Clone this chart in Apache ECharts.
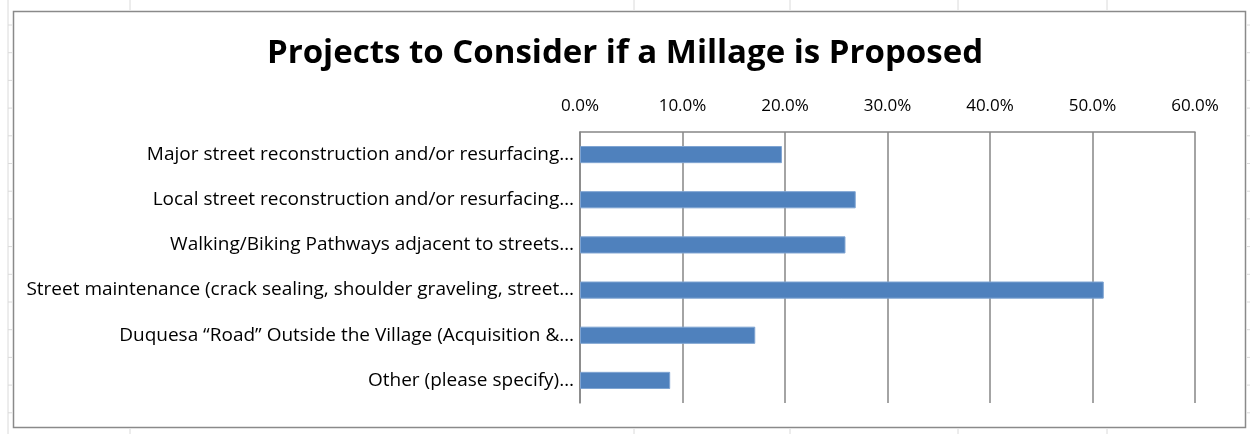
<!DOCTYPE html>
<html>
<head>
<meta charset="utf-8">
<script src="https://cdn.jsdelivr.net/npm/echarts@6/dist/echarts.min.js"></script>
<style>
  html, body { margin: 0; padding: 0; background: #fff; }
  #chart { width: 1250px; height: 434px; }
</style>
</head>
<body>
<div id="chart"></div>
<script>
const categories = [
  'Major street reconstruction and/or resurfacing…',
  'Local street reconstruction and/or resurfacing…',
  'Walking/Biking Pathways adjacent to streets…',
  'Street maintenance (crack sealing, shoulder graveling, street…',
  'Duquesa “Road” Outside the Village (Acquisition &…',
  'Other (please specify)…'
]
const shares = [19.7, 26.9, 25.9, 51.1, 17.1, 8.8]
const titleText = 'Projects to Consider if a Millage is Proposed'

const chart = echarts.init(document.getElementById('chart'))

// faint spreadsheet cell lines behind the chart frame
const sheetLines = []
;[130, 634, 790, 958, 1107].forEach(x => {
  sheetLines.push({ type: 'line', shape: { x1: x, y1: 0, x2: x, y2: 10 }, style: { stroke: '#dadada', lineWidth: 1 }, silent: true })
  sheetLines.push({ type: 'line', shape: { x1: x, y1: 429, x2: x, y2: 434 }, style: { stroke: '#dadada', lineWidth: 1 }, silent: true })
})
sheetLines.push({ type: 'line', shape: { x1: 8, y1: 0, x2: 8, y2: 434 }, style: { stroke: '#dadada', lineWidth: 1 }, silent: true })
for (let y = 25; y < 430; y += 27.7) {
  sheetLines.push({ type: 'line', shape: { x1: 8, y1: y, x2: 12, y2: y }, style: { stroke: '#dadada', lineWidth: 1 }, silent: true })
  sheetLines.push({ type: 'line', shape: { x1: 1247, y1: y, x2: 1250, y2: y }, style: { stroke: '#dadada', lineWidth: 1 }, silent: true })
}

chart.setOption({
  animation: false,
  backgroundColor: '#fff',
  title: {
    text: titleText,
    left: 'center',
    top: 32,
    textStyle: {
      fontFamily: 'Open Sans',
      fontWeight: 'bold',
      fontSize: 33,
      color: '#000'
    }
  },
  graphic: sheetLines.concat([
    {
      type: 'rect',
      shape: { x: 13.5, y: 11.5, width: 1232, height: 416 },
      style: { fill: 'none', stroke: '#8a8a8a', lineWidth: 1.5 },
      silent: true,
      z: -1
    }
  ]),
  grid: {
    left: 580,
    right: 55,
    top: 132,
    bottom: 31,
    containLabel: false
  },
  xAxis: {
    type: 'value',
    position: 'top',
    min: 0,
    max: 60,
    interval: 10,
    axisLine: { show: true, lineStyle: { color: '#868686', width: 1.5 } },
    axisTick: { show: false },
    splitLine: { show: true, lineStyle: { color: '#868686', width: 1.5 } },
    axisLabel: {
      margin: 17,
      formatter: v => v.toFixed(1) + '%',
      fontFamily: 'Open Sans',
      fontSize: 17,
      color: '#000'
    }
  },
  yAxis: {
    type: 'category',
    data: categories,
    inverse: true,
    axisLine: { show: true, lineStyle: { color: '#868686', width: 1.5 } },
    axisTick: { show: false },
    axisLabel: {
      margin: 6,
      padding: [4, 0, 0, 0],
      fontFamily: 'Open Sans',
      fontSize: 19,
      color: '#000'
    }
  },
  series: [{
    type: 'bar',
    data: shares,
    barWidth: '38%',
    itemStyle: {
      color: '#4F81BD',
      borderColor: '#7FA4D2',
      borderWidth: 1
    }
  }]
})
</script>
</body>
</html>
